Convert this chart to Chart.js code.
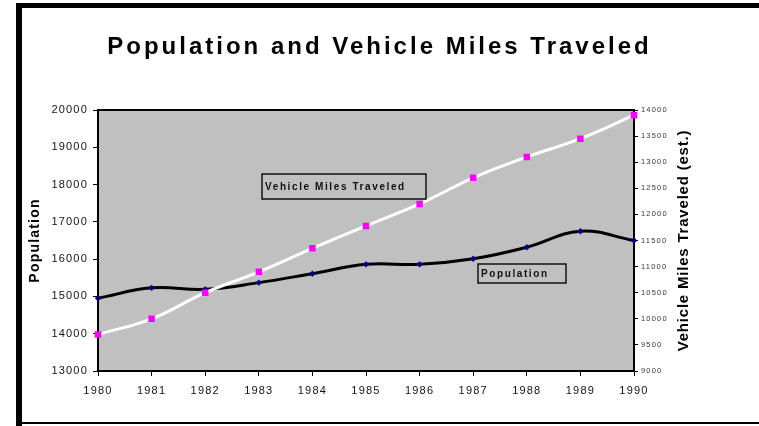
<!DOCTYPE html>
<html>
<head>
<meta charset="utf-8">
<script src="https://cdn.jsdelivr.net/npm/chart.js@4/dist/chart.umd.min.js"></script>
<style>
  html, body { margin: 0; padding: 0; background: #fff; }
  canvas { display: block; }
</style>
</head>
<body>
<canvas id="chart" width="759" height="426"></canvas>
<script>
// data
const years = ['1980', '1981', '1982', '1983', '1984', '1985', '1986', '1987', '1988', '1989', '1990'];
const population = [14950, 15230, 15190, 15370, 15610, 15860, 15860, 16010, 16320, 16750, 16500];
const milesTraveled = [9700, 10000, 10500, 10900, 11350, 11780, 12200, 12700, 13100, 13450, 13900];

const chartTitle = 'Population and Vehicle Miles Traveled';
const leftTitle = 'Population';
const rightTitle = 'Vehicle Miles Traveled (est.)';
const vmtLabel = 'Vehicle Miles Traveled';
const popLabel = 'Population';

const FONT = '"Liberation Sans", Arial, sans-serif';

// frame, gray plot area, titles and the two label boxes
const decor = {
    id: 'decor',
    beforeDraw(chart) {
        const ctx = chart.ctx;
        const a = chart.chartArea;
        ctx.letterSpacing = '1.2px';
        ctx.save();
        ctx.fillStyle = '#c0c0c0';
        ctx.fillRect(a.left, a.top, a.right - a.left, a.bottom - a.top);

        ctx.fillStyle = '#000';
        ctx.fillRect(16, 3, 6, 423);
        ctx.fillRect(16, 3, 743, 5);
        ctx.fillRect(16, 422, 743, 2);

        ctx.font = 'bold 24px ' + FONT;
        ctx.letterSpacing = '3px';
        ctx.textAlign = 'center';
        ctx.textBaseline = 'alphabetic';
        ctx.fillText(chartTitle, 379.5, 54);

        ctx.font = 'bold 15px ' + FONT;
        ctx.letterSpacing = '0.8px';
        ctx.translate(684, (a.top + a.bottom) / 2);
        ctx.rotate(-Math.PI / 2);
        ctx.textBaseline = 'middle';
        ctx.fillText(rightTitle, 0, 0);
        ctx.restore();
    },
    beforeDatasetsDraw(chart) {
        const ctx = chart.ctx;
        const a = chart.chartArea;
        ctx.save();
        ctx.strokeStyle = '#000';
        ctx.lineWidth = 2;
        ctx.strokeRect(a.left, a.top, a.right - a.left, a.bottom - a.top);
        ctx.restore();
    },
    afterDatasetsDraw(chart) {
        const ctx = chart.ctx;
        const a = chart.chartArea;
        const box = (text, x, y, w, h) => {
            ctx.fillStyle = '#c0c0c0';
            ctx.fillRect(x, y, w, h);
            ctx.strokeStyle = '#111';
            ctx.lineWidth = 1.5;
            ctx.strokeRect(x, y, w, h);
            ctx.fillStyle = '#111';
            ctx.fillText(text, x + 3, y + h / 2 + 1);
        };
        ctx.save();
        ctx.font = 'bold 10px ' + FONT;
        ctx.letterSpacing = '1.6px';
        ctx.textAlign = 'left';
        ctx.textBaseline = 'middle';
        box(vmtLabel, a.left + 164, a.top + 64, 164, 25);
        box(popLabel, a.left + 380, a.top + 154, 88, 19);
        ctx.restore();
    }
};

const plain = v => String(v);

new Chart(document.getElementById('chart'), {
    type: 'line',
    data: {
        labels: years,
        datasets: [{
            label: vmtLabel,
            data: milesTraveled,
            yAxisID: 'yRight',
            borderColor: '#ffffff',
            borderWidth: 3,
            tension: 0.4,
            pointStyle: 'rect',
            pointRadius: 4.6,
            pointBackgroundColor: '#ff00ff',
            pointBorderColor: '#ff00ff',
            pointBorderWidth: 0
        }, {
            label: popLabel,
            data: population,
            yAxisID: 'yLeft',
            borderColor: '#000000',
            borderWidth: 3,
            tension: 0.4,
            pointStyle: 'rectRot',
            pointRadius: 3.2,
            pointBackgroundColor: '#000080',
            pointBorderColor: '#000080',
            pointBorderWidth: 0
        }]
    },
    options: {
        responsive: false,
        devicePixelRatio: 1,
        animation: false,
        events: [],
        layout: { padding: { top: 110, left: 22, right: 0, bottom: 0 } },
        plugins: {
            legend: { display: false },
            tooltip: { enabled: false },
            title: { display: false }
        },
        scales: {
            x: {
                offset: false,
                border: { display: false },
                grid: { display: true, drawOnChartArea: false, drawTicks: true, tickLength: 5, color: '#000' },
                ticks: { color: '#111', font: { family: FONT, size: 11 }, padding: 8, maxRotation: 0, autoSkip: false },
                afterFit(s) { s.height = 55; }
            },
            yLeft: {
                position: 'left',
                min: 13000,
                max: 20000,
                border: { display: false },
                grid: { display: true, drawOnChartArea: false, drawTicks: true, tickLength: 5, color: '#000' },
                ticks: { stepSize: 1000, color: '#111', font: { family: FONT, size: 11 }, padding: 5, callback: plain },
                title: { display: true, text: leftTitle, color: '#000', font: { family: FONT, size: 14, weight: 'bold' }, padding: { top: 5, bottom: 0 } },
                afterFit(s) { s.width = 76; }
            },
            yRight: {
                position: 'right',
                min: 9000,
                max: 14000,
                border: { display: false },
                grid: { display: true, drawOnChartArea: false, drawTicks: true, tickLength: 4, color: '#000' },
                ticks: { stepSize: 500, color: '#333', font: { family: FONT, size: 7.5 }, padding: 3, callback: plain },
                afterFit(s) { s.width = 125; }
            }
        }
    },
    plugins: [decor]
});
</script>
</body>
</html>
